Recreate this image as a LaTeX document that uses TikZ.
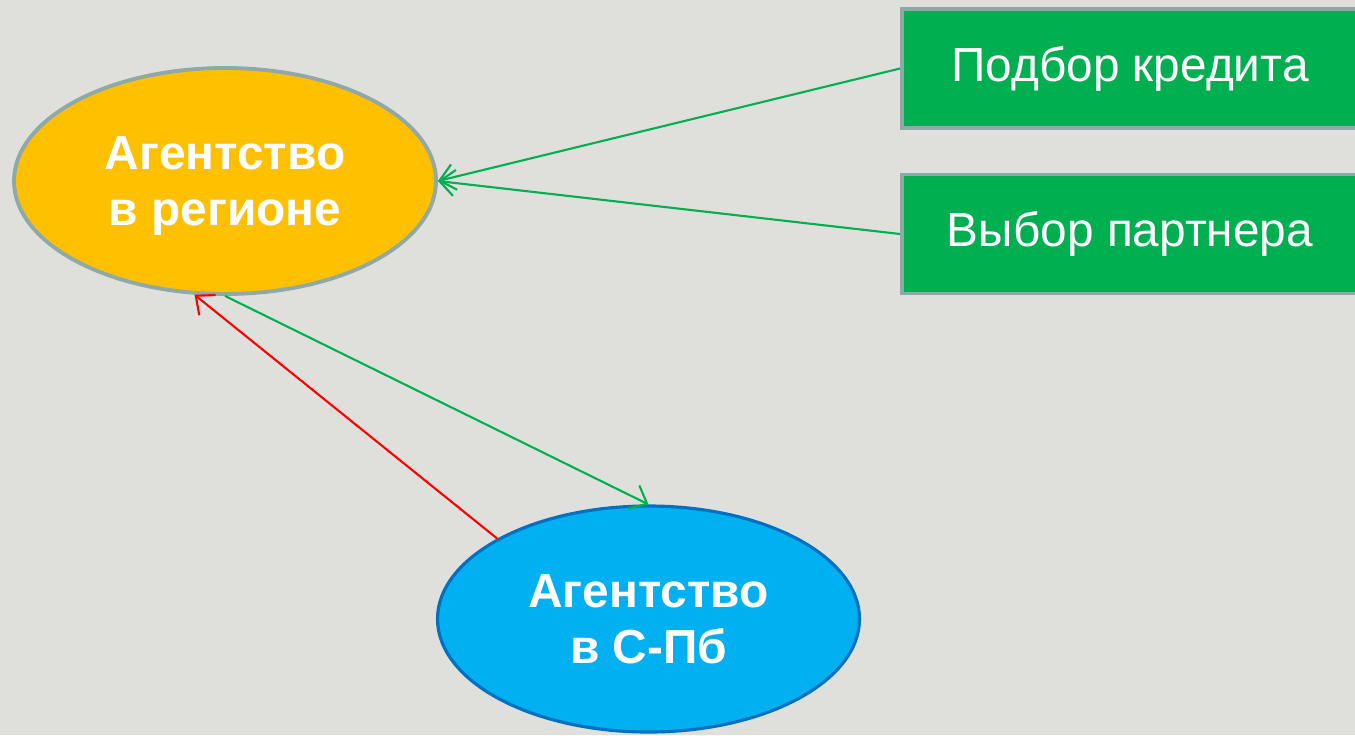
\documentclass[tikz,border=0pt]{standalone}
\usepackage{fontspec}
\setmainfont{Liberation Sans}
\usetikzlibrary{shapes.geometric,arrows.meta}

\definecolor{bgcol}{RGB}{223,224,219}
\definecolor{edgegray}{RGB}{142,169,168}
\definecolor{agyellow}{RGB}{255,192,0}
\definecolor{agblue}{RGB}{0,176,240}
\definecolor{agblueline}{RGB}{0,112,192}
\definecolor{boxgreen}{RGB}{0,176,80}
\definecolor{arrred}{RGB}{255,0,0}

\tikzset{
  agency/.style={ellipse, minimum width=4.22cm, minimum height=2.26cm, inner sep=0pt,
    align=center, text=white, text depth=0pt, font=\fontsize{13.6}{16}\selectfont\bfseries},
  taskbox/.style={rectangle, fill=boxgreen, draw=edgegray, line width=1.1pt,
    minimum width=4.56cm, minimum height=1.19cm, text=white,
    font=\fontsize{13.6}{16}\selectfont},
  link/.style={line width=0.6pt, -{Straight Barb[length=1.5mm,width=2.6mm]}}
}

\begin{document}
\begin{tikzpicture}
	\useasboundingbox (0,0) rectangle (13.55,7.35);
	\fill[bgcol] (0,0) rectangle (13.55,7.35);

	% agencies
	\node[agency, fill=agyellow, draw=edgegray, line width=1.1pt] (region) at (2.25,5.54) {Агентство\\в регионе};
	\node[agency, fill=agblue, draw=agblueline, line width=0.9pt] (spb) at (6.485,1.16) {Агентство\\в С-Пб};

	% tasks
	\node[taskbox] (credit) at (11.30,6.665) {Подбор кредита};
	\node[taskbox] (partner) at (11.30,5.01) {Выбор партнера};

	\draw[link, boxgreen] (credit.west) -- (region.east);
	\draw[link, boxgreen] (partner.west) -- (region.east);
	\draw[link, boxgreen] (region.south) -- (spb.north);
	\draw[link, arrred] (spb.152) -- (region.255);
\end{tikzpicture}
\end{document}
